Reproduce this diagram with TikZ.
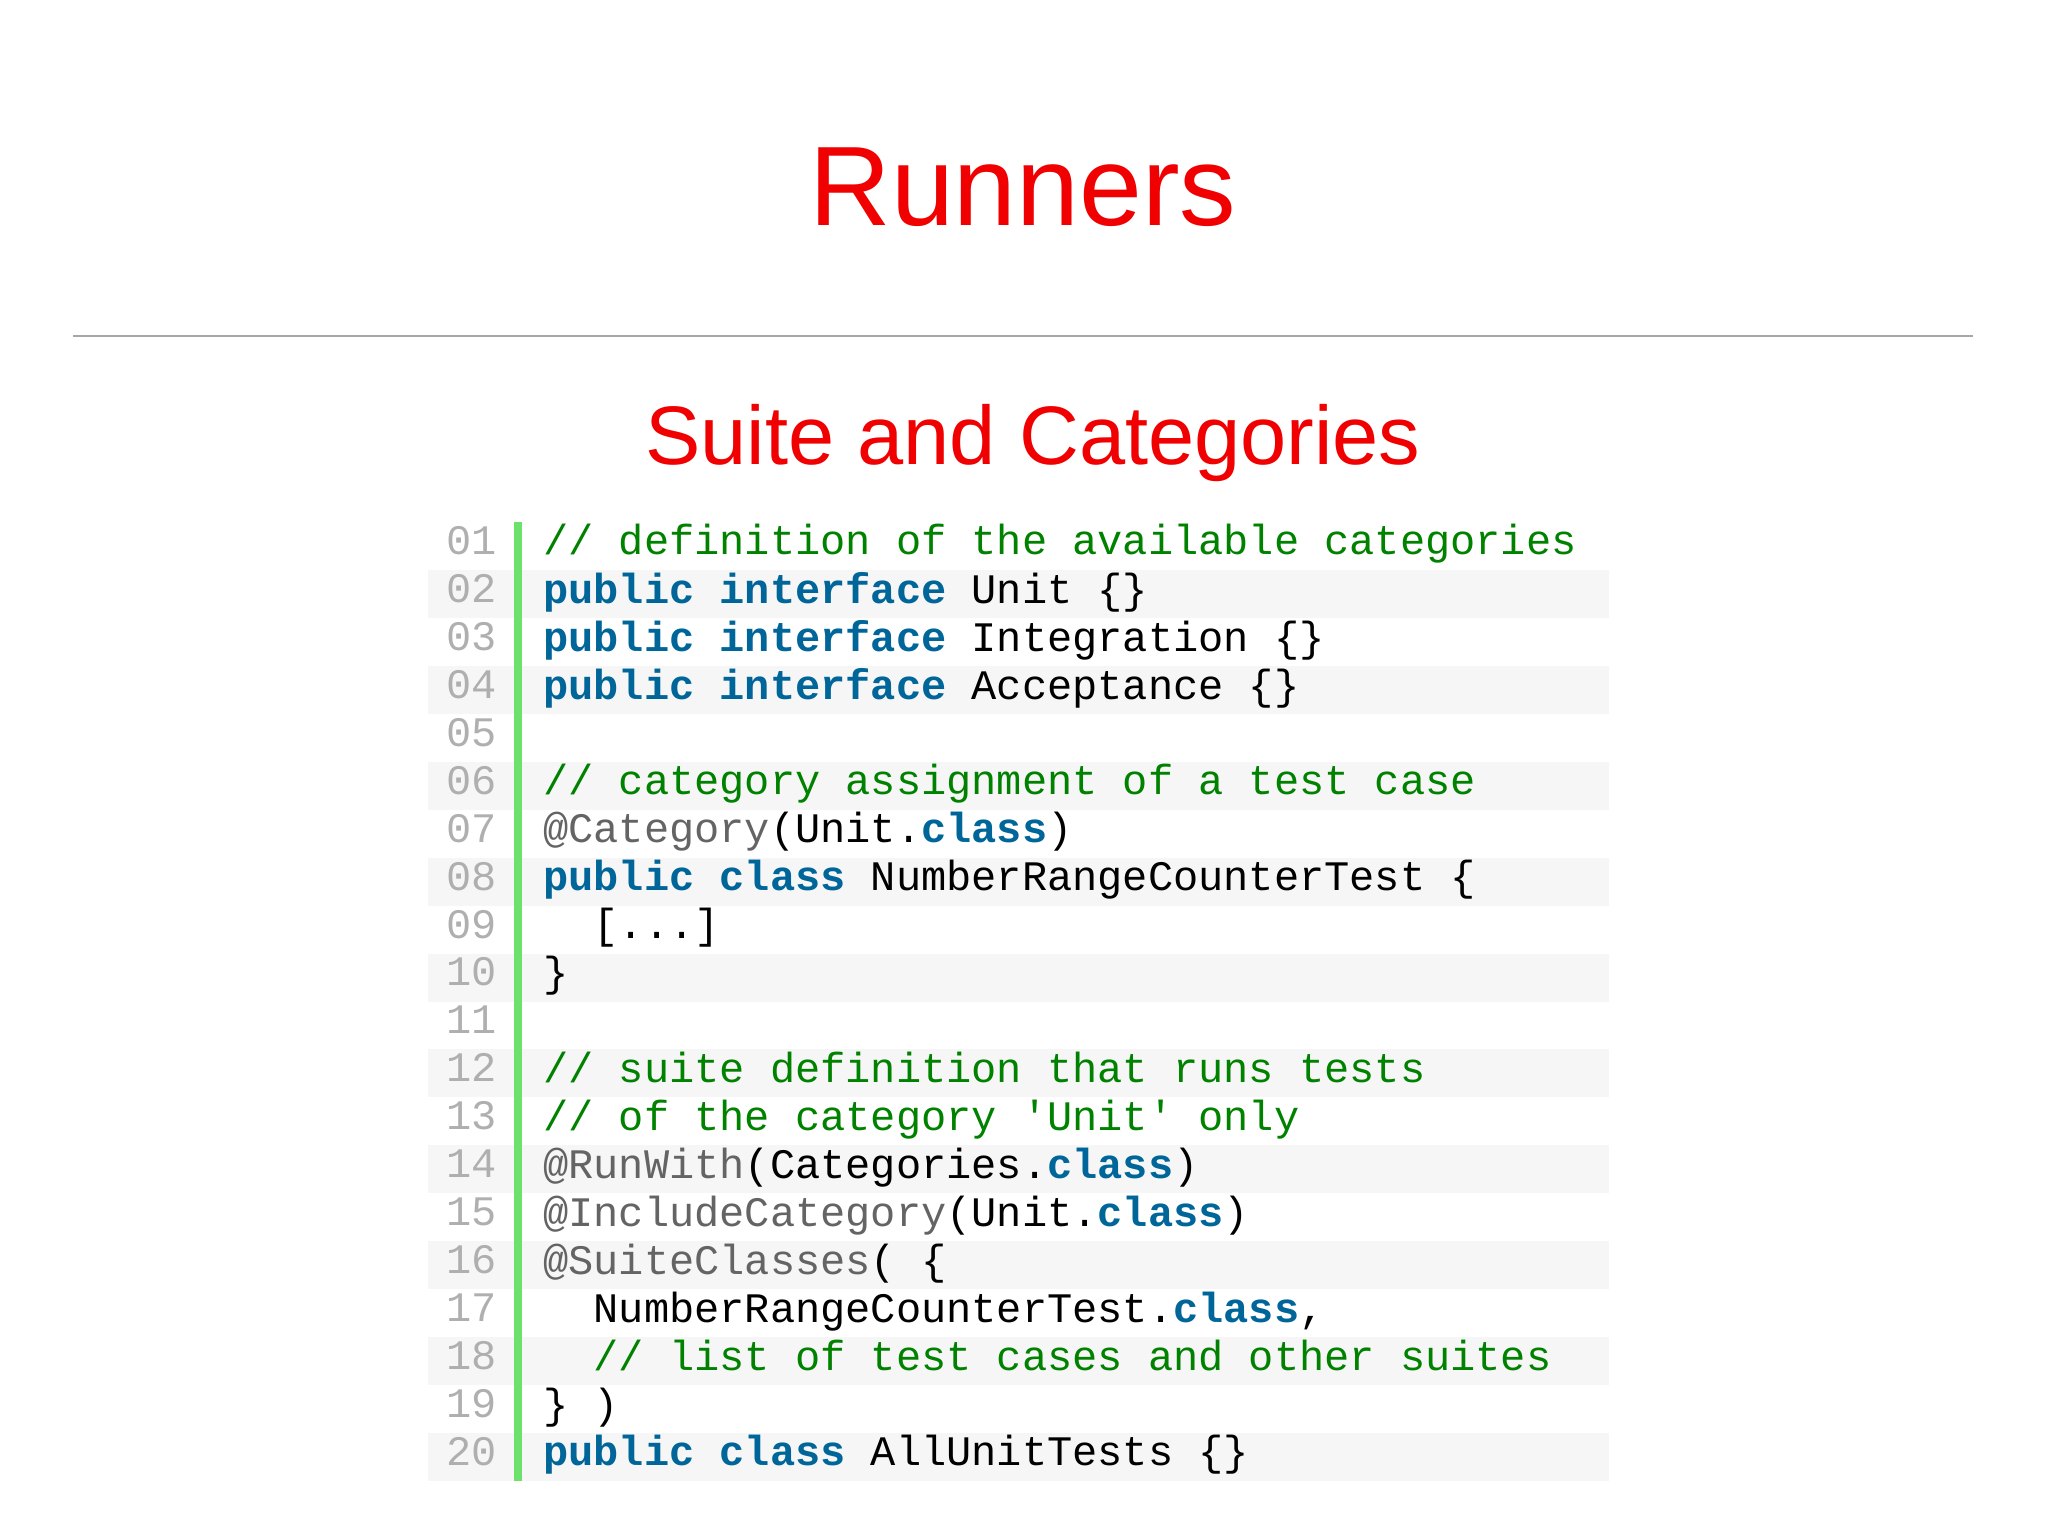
\documentclass[tikz,border=0pt]{standalone}
\usepackage{fontspec}
\setmainfont{Liberation Sans}
\setmonofont{Liberation Mono}
\definecolor{cm}{HTML}{008200}
\definecolor{kw}{HTML}{006699}
\definecolor{an}{HTML}{646464}
\definecolor{ln}{HTML}{AFAFAF}
\definecolor{bar}{HTML}{6CE26C}
\definecolor{rowbg}{HTML}{F6F6F6}
\definecolor{ttl}{HTML}{F00000}
\newcommand{\K}[1]{\textcolor{kw}{\bfseries #1}}
\newcommand{\C}[1]{\textcolor{cm}{#1}}
\newcommand{\A}[1]{\textcolor{an}{#1}}
\begin{document}
\begin{tikzpicture}[x=1pt,y=-1pt,
  code/.style={anchor=west,inner sep=0pt,font=\fontsize{42}{42}\selectfont\ttfamily},
  num/.style={anchor=east,inner sep=0pt,text=ln,font=\fontsize{42}{42}\selectfont\ttfamily}]
\useasboundingbox (0,0) rectangle (2048,1535);
\node[text=ttl,font=\fontsize{113}{113}\selectfont] (t) at (1023,187) {Runners};
\draw[gray!70,line width=1.5pt] (73,336) coordinate (r1) -- (1973,336) coordinate (r2);
\node[text=ttl,font=\fontsize{83}{83}\selectfont] (s) at (1033,443) {Suite and Categories};
\foreach \i in {2,4,...,20}{
  \fill[rowbg] (428,{546+(\i-1)*47.95-24}) rectangle (1609,{546+(\i-1)*47.95+24});
}
\fill[bar] (514,522) rectangle (522,1481);
\foreach \i/\t in {1/01,2/02,3/03,4/04,5/05,6/06,7/07,8/08,9/09,10/10,11/11,12/12,13/13,14/14,15/15,16/16,17/17,18/18,19/19,20/20}{
  \node[num] (n\i) at (497,{546+(\i-1)*47.95}) {\strut\t};
}
\def\Y#1{{546+(#1-1)*47.95}}
\node[code] (c1) at (543,\Y1) {\strut\C{// definition of the available categories}};
\node[code] (c2) at (543,\Y2) {\strut\K{public} \K{interface} Unit \{\}};
\node[code] (c3) at (543,\Y3) {\strut\K{public} \K{interface} Integration \{\}};
\node[code] (c4) at (543,\Y4) {\strut\K{public} \K{interface} Acceptance \{\}};
\node[code] (c6) at (543,\Y6) {\strut\C{// category assignment of a test case}};
\node[code] (c7) at (543,\Y7) {\strut\A{@Category}(Unit.\K{class})};
\node[code] (c8) at (543,\Y8) {\strut\K{public} \K{class} NumberRangeCounterTest \{};
\node[code] (c9) at (543,\Y9) {\strut\ \ [...]};
\node[code] (c10) at (543,\Y{10}) {\strut\}};
\node[code] (c12) at (543,\Y{12}) {\strut\C{// suite definition that runs tests}};
\node[code] (c13) at (543,\Y{13}) {\strut\C{// of the category 'Unit' only}};
\node[code] (c14) at (543,\Y{14}) {\strut\A{@RunWith}(Categories.\K{class})};
\node[code] (c15) at (543,\Y{15}) {\strut\A{@IncludeCategory}(Unit.\K{class})};
\node[code] (c16) at (543,\Y{16}) {\strut\A{@SuiteClasses}( \{};
\node[code] (c17) at (543,\Y{17}) {\strut\ \ NumberRangeCounterTest.\K{class},};
\node[code] (c18) at (543,\Y{18}) {\strut\ \ \C{// list of test cases and other suites}};
\node[code] (c19) at (543,\Y{19}) {\strut\} )};
\node[code] (c20) at (543,\Y{20}) {\strut\K{public} \K{class} AllUnitTests \{\}};
\end{tikzpicture}
\end{document}
